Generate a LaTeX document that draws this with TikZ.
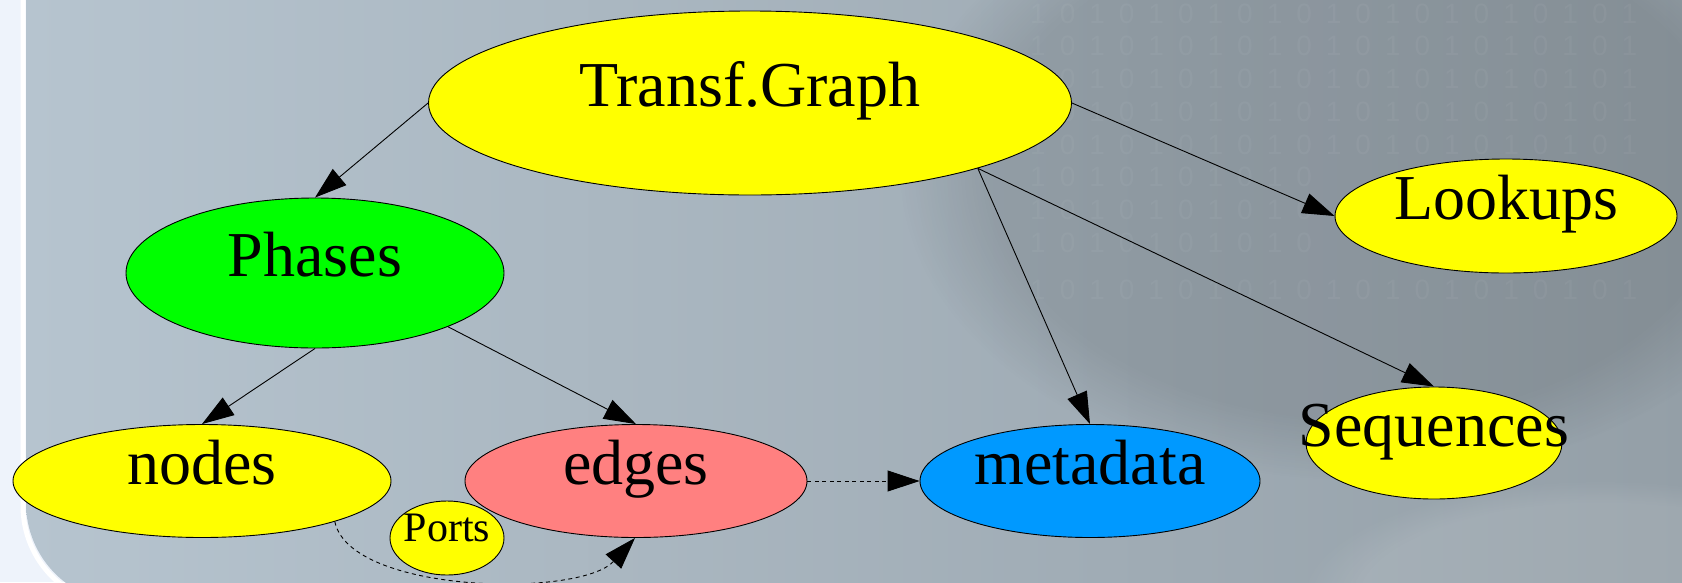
\documentclass[tikz,border=0pt]{standalone}
\usepackage{fontspec}
\setmainfont{Liberation Serif}
\newfontfamily\wmfont[LetterSpace=50]{Liberation Sans}
\usetikzlibrary{shapes.geometric,arrows.meta,fadings}
\definecolor{bgleft}{HTML}{EEF3FB}
\definecolor{panelL}{HTML}{B6C4CF}
\definecolor{panelM}{HTML}{ABB9C3}
\definecolor{panelR}{HTML}{949FA7}
\definecolor{gvyellow}{HTML}{FFFF00}
\definecolor{gvgreen}{HTML}{00FF00}
\definecolor{gvred}{HTML}{FF8080}
\definecolor{gvblue}{HTML}{0099FF}
\tikzset{
  gvshape/.style={ellipse, draw=black, line width=0.9pt, inner sep=0pt},
  gv/.style={gvshape, font=\fontsize{64}{70}\selectfont, text height=0.7em, text depth=0.1em},
  gvtext/.style={inner sep=0pt, font=\fontsize{64}{70}\selectfont, text height=0.7em, text depth=0.1em},
  conn/.style={line width=0.9pt, -{Triangle[length=32pt,width=21pt]}},
  dconn/.style={conn, dash pattern=on 4pt off 3.5pt},
  wm/.style={anchor=west, inner sep=0pt, text=white, text opacity=0.045, font=\wmfont\fontsize{28}{30}\selectfont},
}
\begin{document}
\begin{tikzpicture}[x=1pt,y=-1pt]
\useasboundingbox (0,0) rectangle (1682,582);
% background
\fill[bgleft] (0,0) rectangle (1682,582);
\draw[white, line width=5pt, rounded corners=100pt] (23,-120) -- (23,606) -- (1800,606);
\begin{scope}
  \clip[rounded corners=100pt] (26,-120) rectangle (1800,603);
  \shade[left color=panelL, middle color=panelM, right color=panelR] (26,-10) rectangle (1690,600);
  \fill[black, opacity=0.10, path fading=circle with fuzzy edge 20 percent] (1360,170) ellipse [x radius=460, y radius=310];
  \fill[white, opacity=0.10, path fading=circle with fuzzy edge 20 percent] (1600,600) ellipse [x radius=300, y radius=120];
\end{scope}
% faint binary watermark
\node[wm] (wm1) at (1030,14) {101010101010101010101};
\node[wm] (wm2) at (1030,46) {101010101010101010101};
\node[wm] (wm3) at (1030,79) {101010101010101010101};
\node[wm] (wm4) at (1030,112) {101010101010101010101};
\node[wm] (wm5) at (1030,145) {101010101010101010101};
\node[wm] (wm6) at (1030,177) {1010101010};
\node[wm] (wm7) at (1030,210) {1010101010};
\node[wm] (wm8) at (1030,243) {1010101010};
\node[wm] (wm9) at (1030,290) {101010101010101010101};
% nodes
\node[gv, fill=gvyellow, minimum width=643pt, minimum height=184pt] (tg) at (750,103) {Transf.Graph};
\node[gv, fill=gvgreen, minimum width=378pt, minimum height=150pt] (ph) at (315,273) {Phases};
\node[gv, fill=gvyellow, minimum width=378pt, minimum height=113pt] (nd) at (202,481) {nodes};
\node[gv, fill=gvred, minimum width=342pt, minimum height=113pt] (ed) at (636,481) {edges};
\node[gvshape, fill=gvyellow, minimum width=114pt, minimum height=74pt] (pt) at (447,538) {};
\node[gvtext, font=\fontsize{42}{46}\selectfont] (ptlabel) at (pt.center) {Ports};
\node[gv, fill=gvblue, minimum width=340pt, minimum height=113pt] (md) at (1090,481) {metadata};
\node[gvshape, fill=gvyellow, minimum width=256pt, minimum height=112pt] (sq) at (1434,443) {};
\node[gvtext] (sqlabel) at (sq.center) {Sequences};
\node[gv, fill=gvyellow, minimum width=342pt, minimum height=114pt] (lk) at (1506,216) {Lookups};
% connectors
\draw[conn] (tg.west) -- (ph.north);
\draw[conn] (ph.south) -- (nd.north);
\draw[conn] (ph.-22) -- (ed.north);
\draw[conn] (tg.-16) -- (md.north);
\draw[conn] (tg.-16) -- (sq.north);
\draw[conn] (tg.east) -- (lk.west);
\draw[dconn] (ed.east) -- (md.west);
\draw[dconn] (nd.-17) .. controls (350,594) and (580,598) .. (ed.-91);
\end{tikzpicture}
\end{document}
